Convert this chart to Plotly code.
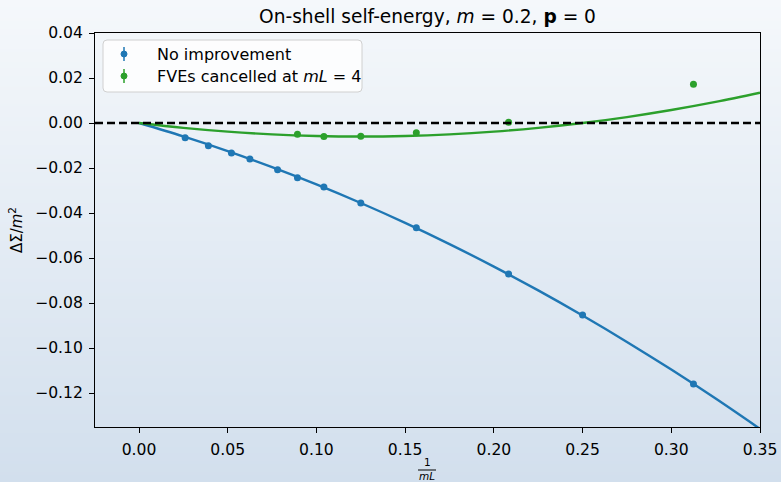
import base64, struct, zlib
import plotly.graph_objects as go

# ---- data ----
inv_mL_noimp = [0.0260, 0.0391, 0.0521, 0.0625, 0.0781, 0.0893, 0.1042, 0.1250, 0.1563, 0.2083, 0.2500, 0.3125]
dS_noimp = [-0.0066, -0.0101, -0.0133, -0.0160, -0.0208, -0.0243, -0.0284, -0.0355, -0.0466, -0.0671, -0.0853, -0.1160]
err_noimp = [0.0002] * 12

inv_mL_canc = [0.0893, 0.1042, 0.1250, 0.1563, 0.2083, 0.3125]
dS_canc = [-0.0050, -0.0060, -0.0059, -0.0043, 0.0003, 0.0172]
err_canc = [0.0002] * 6

fit_x = [0.0, 0.025, 0.05, 0.075, 0.1, 0.125, 0.15, 0.175, 0.2, 0.225, 0.25, 0.275, 0.3, 0.325, 0.35]
fit_noimp = [0.0, -0.00596, -0.01249, -0.0196, -0.02729, -0.03556, -0.0444, -0.05382, -0.06382,
             -0.0744, -0.08556, -0.09728, -0.10959, -0.12248, -0.13595]
fit_canc = [0.0, -0.00216, -0.00384, -0.00504, -0.00576, -0.0060, -0.00576, -0.00504, -0.00384,
            -0.00216, 0.0, 0.00264, 0.00576, 0.00936, 0.01344]

x_ticks = [0.0, 0.05, 0.10, 0.15, 0.20, 0.25, 0.30, 0.35]
y_ticks = [0.04, 0.02, 0.0, -0.02, -0.04, -0.06, -0.08, -0.10, -0.12]

BLUE = "#1f77b4"
GREEN = "#2ca02c"
FONT = "DejaVu Sans"


def gradient_png(h, top, bot):
    raw = b""
    for i in range(h):
        t = i / (h - 1)
        c = bytes(int(round(top[k] + (bot[k] - top[k]) * t)) for k in range(3))
        raw += b"\x00" + c
    def chunk(tag, data):
        return struct.pack(">I", len(data)) + tag + data + struct.pack(">I", zlib.crc32(tag + data) & 0xffffffff)
    png = b"\x89PNG\r\n\x1a\n" + chunk(b"IHDR", struct.pack(">IIBBBBB", 1, h, 8, 2, 0, 0, 0))
    png += chunk(b"IDAT", zlib.compress(raw)) + chunk(b"IEND", b"")
    return "data:image/png;base64," + base64.b64encode(png).decode()


fig = go.Figure()
fig.add_trace(go.Scatter(x=fit_x, y=fit_noimp, mode="lines", line=dict(color=BLUE, width=2.4, shape="spline"),
                         showlegend=False, hoverinfo="skip"))
fig.add_trace(go.Scatter(x=fit_x, y=fit_canc, mode="lines", line=dict(color=GREEN, width=2.4, shape="spline"),
                         showlegend=False, hoverinfo="skip"))
fig.add_trace(go.Scatter(x=inv_mL_noimp, y=dS_noimp, mode="markers", name="No improvement",
                         marker=dict(color=BLUE, size=7),
                         error_y=dict(type="data", array=err_noimp, color=BLUE, thickness=1.5, width=0),
                         showlegend=False))
fig.add_trace(go.Scatter(x=inv_mL_canc, y=dS_canc, mode="markers", name="FVEs cancelled at mL = 4",
                         marker=dict(color=GREEN, size=7),
                         error_y=dict(type="data", array=err_canc, color=GREEN, thickness=1.5, width=0),
                         showlegend=False))

shapes = [
    dict(type="line", xref="paper", yref="y", x0=0, x1=1, y0=0, y1=0,
         line=dict(color="black", width=2.4, dash="8px,4px"), layer="above"),
]
annotations = []

# manual legend (matplotlib style)
W, H = 781, 482
L, R, T, B = 95, 21, 33, 55
pw, ph = W - L - R, H - T - B
def px(x):
    return (x - L) / pw
def py(y):
    return 1 - (y - T) / ph

lx0, lx1, ly0, ly1, r = 103, 362, 40, 92, 4
path = (f"M {px(lx0 + r)} {py(ly0)} L {px(lx1 - r)} {py(ly0)} Q {px(lx1)} {py(ly0)} {px(lx1)} {py(ly0 + r)} "
        f"L {px(lx1)} {py(ly1 - r)} Q {px(lx1)} {py(ly1)} {px(lx1 - r)} {py(ly1)} "
        f"L {px(lx0 + r)} {py(ly1)} Q {px(lx0)} {py(ly1)} {px(lx0)} {py(ly1 - r)} "
        f"L {px(lx0)} {py(ly0 + r)} Q {px(lx0)} {py(ly0)} {px(lx0 + r)} {py(ly0)} Z")
shapes.append(dict(type="path", xref="paper", yref="paper", path=path,
                   line=dict(color="#d0d0d0", width=1), fillcolor="rgba(255,255,255,0.8)", layer="above"))
entries = [(BLUE, "No improvement", 54), (GREEN, "FVEs cancelled at <i>mL</i> = 4", 76)]
for col, txt, yy in entries:
    shapes.append(dict(type="line", xref="paper", yref="paper", x0=px(124), x1=px(124), y0=py(yy - 7), y1=py(yy + 7),
                       line=dict(color=col, width=1.5), layer="above"))
    shapes.append(dict(type="circle", xref="paper", yref="paper", x0=px(121), x1=px(127), y0=py(yy - 3), y1=py(yy + 3),
                       line=dict(color=col, width=1), fillcolor=col, layer="above"))
    annotations.append(dict(xref="paper", yref="paper", x=px(155), y=py(yy), text=txt, showarrow=False,
                            xanchor="left", yanchor="middle", font=dict(family=FONT, size=16, color="black")))

# x-axis label as a fraction 1/(mL)
annotations.append(dict(xref="paper", yref="paper", x=px(427), y=py(462), text="1", showarrow=False,
                        xanchor="center", yanchor="middle", font=dict(family=FONT, size=10.5, color="black")))
shapes.append(dict(type="line", xref="paper", yref="paper", x0=px(418), x1=px(436), y0=py(470), y1=py(470),
                   line=dict(color="black", width=1)))
annotations.append(dict(xref="paper", yref="paper", x=px(427), y=py(475.5), text="<i>mL</i>", showarrow=False,
                        xanchor="center", yanchor="middle", font=dict(family=FONT, size=10.5, color="black")))

fig.update_layout(
    width=W, height=H,
    margin=dict(l=L, r=R, t=T, b=B, autoexpand=False),
    paper_bgcolor="#e6edf5",
    plot_bgcolor="white",
    font=dict(family=FONT, size=15.6, color="black"),
    title=dict(text="On-shell self-energy, <i>m</i> = 0.2, <b>p</b> = 0", x=0.5, xref="paper", xanchor="center",
               y=1 - 16 / H, yanchor="middle", font=dict(family=FONT, size=18.6, color="black")),
    shapes=shapes,
    annotations=annotations,
    images=[dict(source=gradient_png(H, (245, 248, 251), (210, 223, 237)), xref="paper", yref="paper",
                 x=-L / pw, y=1 + T / ph, sizex=W / pw, sizey=H / ph, sizing="stretch",
                 xanchor="left", yanchor="top", layer="below")],
    showlegend=False,
)
fig.update_xaxes(range=[-0.0248, 0.35], tickvals=x_ticks, tickformat=".2f", ticks="outside", ticklen=5,
                 tickwidth=1, tickcolor="black", showline=True, linecolor="black", linewidth=1, mirror=True,
                 showgrid=False, zeroline=False, tickfont=dict(family=FONT, size=15.6), automargin=False,
                 ticklabelstandoff=3)
fig.update_yaxes(range=[-0.1351, 0.04], tickvals=y_ticks, tickformat=".2f", ticks="outside", ticklen=5,
                 tickwidth=1, tickcolor="black", showline=True, linecolor="black", linewidth=1, mirror=True,
                 showgrid=False, zeroline=False, tickfont=dict(family=FONT, size=15.6), automargin=False,
                 ticklabelstandoff=3,
                 title=dict(text="ΔΣ/<i>m</i><sup>2</sup>", font=dict(family=FONT, size=15), standoff=8))

fig.write_html("out.html", config={"displayModeBar": False},
               post_script="document.body.style.margin='0';document.body.style.overflow='hidden';")
